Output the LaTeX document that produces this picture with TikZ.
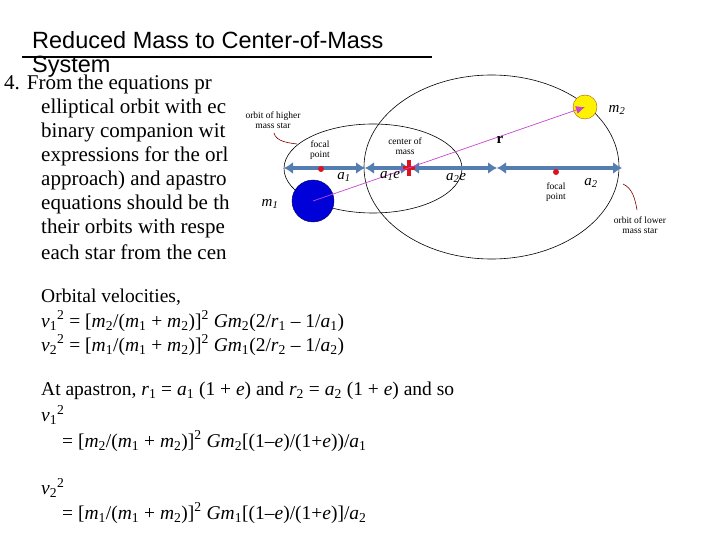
\documentclass[tikz,border=0pt]{standalone}
\usepackage{fontspec}
\setmainfont{Liberation Serif}
\setsansfont{Liberation Sans}
\usetikzlibrary{arrows.meta}
\definecolor{axisblue}{RGB}{84,126,178}
\definecolor{starred}{RGB}{220,20,30}
\definecolor{rvec}{RGB}{200,70,210}
\newcommand{\lo}[1]{\textsubscript{#1}}
\newcommand{\hi}[1]{\textsuperscript{#1}}
\begin{document}
\begin{tikzpicture}[x=1pt,y=-1pt,
  body/.style={anchor=west,inner sep=0pt,font=\fontsize{21}{24}\selectfont},
  bodyb/.style={anchor=west,inner sep=0pt,font=\fontsize{19.5}{22}\selectfont},
  lbl/.style={inner sep=0pt,align=center,font=\fontsize{9.5}{9.5}\selectfont},
  mlbl/.style={inner sep=0pt,font=\itshape\fontsize{15}{15}\selectfont},
  orbit/.style={draw=black,line width=0.6pt},
  seg/.style={axisblue,line width=3.5pt,{Latex[length=9pt,width=12pt]}-{Latex[length=9pt,width=12pt]}},
  leader/.style={draw=red!50!black,line width=0.6pt}]
\useasboundingbox (0,0) rectangle (720,540);
\fill[white] (0,0) rectangle (720,540);
% title
\node[anchor=west,inner sep=0pt,font=\sffamily\fontsize{23.5}{23.5}\selectfont] (t1) at (32,40) {Reduced Mass to Center-of-Mass};
\node[anchor=west,inner sep=0pt,font=\sffamily\fontsize{23.5}{23.5}\selectfont] (t2) at (32,67) {System};
\draw[line width=2.5pt] (22,57) -- (432,57);
% body
\node[body] (b1) at (4,84) {4. From the equations pr};
\node[body] (b2) at (41,108) {elliptical orbit with ec};
\node[body] (b3) at (41,132) {binary companion wit};
\node[body] (b4) at (41,156) {expressions for the orl};
\node[body] (b5) at (41,180) {approach) and apastro};
\node[body] (b6) at (41,204) {equations should be th};
\node[body] (b7) at (41,228) {their orbits with respe};
\node[body] (b8) at (41,252) {each star from the cen};
\node[bodyb] (c1) at (41,297) {Orbital velocities,};
\node[bodyb] (c2) at (41,321) {\textit{v}\lo{1}\hi{2} = [\textit{m}\lo{2}/(\textit{m}\lo{1} + \textit{m}\lo{2})]\hi{2} \textit{G}\textit{m}\lo{2}(2/\textit{r}\lo{1} -- 1/\textit{a}\lo{1})};
\node[bodyb] (c3) at (41,345) {\textit{v}\lo{2}\hi{2} = [\textit{m}\lo{1}/(\textit{m}\lo{1} + \textit{m}\lo{2})]\hi{2} \textit{G}\textit{m}\lo{1}(2/\textit{r}\lo{2} -- 1/\textit{a}\lo{2})};
\node[bodyb] (c4) at (41,391) {At apastron, \textit{r}\lo{1} = \textit{a}\lo{1} (1 + \textit{e}) and \textit{r}\lo{2} = \textit{a}\lo{2} (1 + \textit{e}) and so};
\node[bodyb] (c5) at (41,415) {\textit{v}\lo{1}\hi{2}};
\node[bodyb] (c6) at (62,441) {= [\textit{m}\lo{2}/(\textit{m}\lo{1} + \textit{m}\lo{2})]\hi{2} \textit{G}\textit{m}\lo{2}[(1--\textit{e})/(1+\textit{e}))/\textit{a}\lo{1}};
\node[bodyb] (c7) at (41,488) {\textit{v}\lo{2}\hi{2}};
\node[bodyb] (c8) at (62,513) {= [\textit{m}\lo{1}/(\textit{m}\lo{1} + \textit{m}\lo{2})]\hi{2} \textit{G}\textit{m}\lo{1}[(1--\textit{e})/(1+\textit{e})]/\textit{a}\lo{2}};
% diagram area
\fill[white] (246,70) rectangle (720,270);
\draw[orbit] (373,168.5) ellipse [x radius=89,y radius=44.5];
\draw[orbit] (491.5,167) ellipse [x radius=127.5,y radius=92];
\coordinate (p0) at (284,168);
\coordinate (p1) at (365,168);
\coordinate (p2) at (410,168);
\coordinate (p3) at (497,168);
\coordinate (p4) at (622,168);
\draw[seg] (p0) -- (p1);
\draw[seg] (p1) -- (p2);
\draw[seg] (p2) -- (p3);
\draw[seg] (p3) -- (p4);
\fill[starred] (321,169) circle [radius=3];
\fill[starred] (556,172) circle [radius=3];
\fill[starred] (407,160) rectangle (411,176);
\fill[starred] (403,166) rectangle (415,170);
\node[circle,fill=blue!85!black,draw=blue!40!black,minimum size=42pt,inner sep=0pt] (m1) at (313,201) {};
\node[circle,fill=yellow,draw=orange!70!black,minimum size=24pt,inner sep=0pt] (m2) at (585,107) {};
\draw[rvec,line width=0.7pt,-{Latex[length=9pt,width=8pt]}] (m1.center) -- (m2.center);
\node[lbl] (lh) at (273,120) {orbit of higher\\mass star};
\draw[leader] (274,133) .. controls (276,142) and (290,143) .. (297,144);
\node[lbl] (fp1) at (320,150) {focal\\point};
\node[lbl] (cm) at (405,146) {center of\\mass};
\node[lbl] (fp2) at (556,192) {focal\\point};
\node[lbl] (ll) at (640,225) {orbit of lower\\mass star};
\draw[leader] (623,184) .. controls (632,188) and (635,198) .. (637,210);
\node[inner sep=0pt,font=\bfseries\fontsize{15}{15}\selectfont] (r) at (500,140) {r};
\node[mlbl] (a1) at (344,177) {a\lo{1}};
\node[mlbl] (a1e) at (390,176) {a\lo{1}e};
\node[mlbl] (a2e) at (456,178) {a\lo{2}e};
\node[mlbl] (a2) at (591,183) {a\lo{2}};
\node[mlbl] (lm1) at (270,204) {m\lo{1}};
\node[mlbl] (lm2) at (617,110) {m\lo{2}};
\end{tikzpicture}
\end{document}
